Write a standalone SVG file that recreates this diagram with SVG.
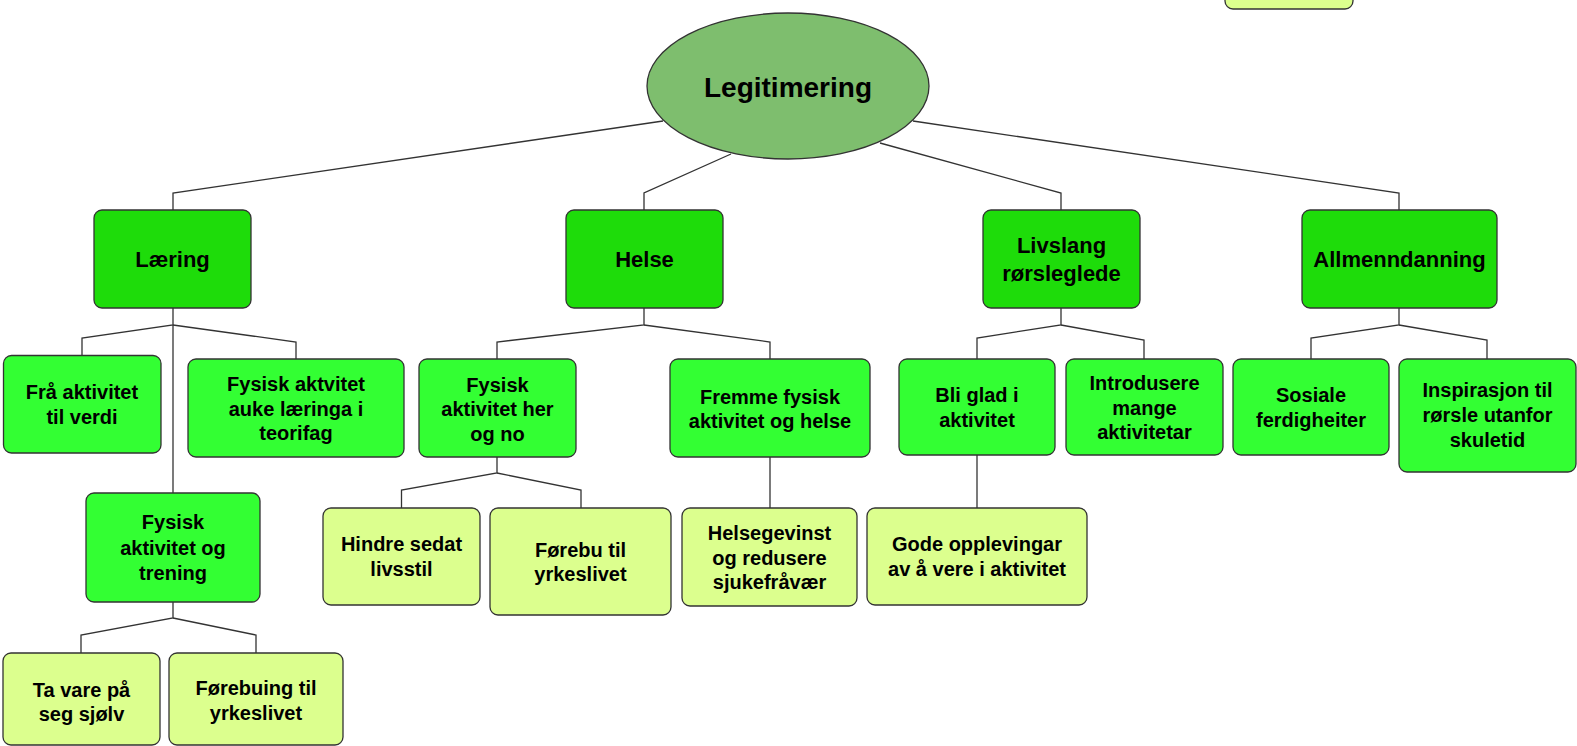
<svg xmlns="http://www.w3.org/2000/svg" width="1577" height="746" viewBox="0 0 1577 746">
<style>
.root{fill:#7EBE6E;stroke:#333;stroke-width:1.3}
.l1{fill:#1EDC0A;stroke:#333;stroke-width:1.3}
.l2{fill:#33FF33;stroke:#333;stroke-width:1.3}
.l3{fill:#DCFF8E;stroke:#333;stroke-width:1.3}
text{font-family:"Liberation Sans",Arial,Helvetica,sans-serif;font-weight:bold;fill:#000;text-anchor:middle}
.t0{font-size:28px}
.t1{font-size:22px}
.t2{font-size:20px}
.c{fill:none;stroke:#333;stroke-width:1.3}
</style>
<rect width="1577" height="746" fill="#fff"/>
<g id="connectors">
<path class="c" d="M663,121 L173,193 L173,210"/>
<path class="c" d="M731,154 L644,193 L644,210"/>
<path class="c" d="M880,143 L1061,193 L1061,210"/>
<path class="c" d="M913,121 L1399,193 L1399,210"/>
<path class="c" d="M173,308 L173,325 L82,338 L82,356"/>
<path class="c" d="M173,325 L296,342 L296,359"/>
<path class="c" d="M173,325 L173,493"/>
<path class="c" d="M173,602 L173,618 L81,635 L81,653"/>
<path class="c" d="M173,618 L256,635 L256,653"/>
<path class="c" d="M644,308 L644,325 L497,342 L497,359"/>
<path class="c" d="M644,325 L770,342 L770,359"/>
<path class="c" d="M497,457 L497,473 L401.5,490 L401.5,508"/>
<path class="c" d="M497,473 L581,490 L581,508"/>
<path class="c" d="M770,457 L770,508"/>
<path class="c" d="M1061,308 L1061,325 L977,338 L977,359"/>
<path class="c" d="M1061,325 L1144,340 L1144,359"/>
<path class="c" d="M1399,308 L1399,325 L1311,338 L1311,359"/>
<path class="c" d="M1399,325 L1487,340 L1487,359"/>
<path class="c" d="M977,455 L977,508"/>
</g>
<g id="topright"><rect class="l3" x="1225" y="-30" width="128" height="39" rx="8"/></g>
<g id="root"><ellipse class="root" cx="788" cy="86" rx="141" ry="73"/><text class="t0" x="788" y="97">Legitimering</text></g>
<g id="laering"><rect class="l1" x="94" y="210" width="157" height="98" rx="8"/><text class="t1" x="172.5" y="267">Læring</text></g>
<g id="helse"><rect class="l1" x="566" y="210" width="157" height="98" rx="8"/><text class="t1" x="644.5" y="267">Helse</text></g>
<g id="livslang"><rect class="l1" x="983" y="210" width="157" height="98" rx="8"/><text class="t1" x="1061.5" y="253">Livslang</text><text class="t1" x="1061.5" y="281">rørsleglede</text></g>
<g id="allmenn"><rect class="l1" x="1302" y="210" width="195" height="98" rx="8"/><text class="t1" x="1399.5" y="267">Allmenndanning</text></g>
<g id="fra"><rect class="l2" x="3.5" y="355.5" width="157.5" height="97.5" rx="8"/><text class="t2" x="82" y="399">Frå aktivitet</text><text class="t2" x="82" y="424">til verdi</text></g>
<g id="auke"><rect class="l2" x="188" y="359" width="216" height="98" rx="8"/><text class="t2" x="296" y="391">Fysisk aktvitet</text><text class="t2" x="296" y="415.5">auke læringa i</text><text class="t2" x="296" y="440">teorifag</text></g>
<g id="trening"><rect class="l2" x="86" y="493" width="174" height="109" rx="8"/><text class="t2" x="173" y="529">Fysisk</text><text class="t2" x="173" y="554.5">aktivitet og</text><text class="t2" x="173" y="579.5">trening</text></g>
<g id="tavare"><rect class="l3" x="3" y="653" width="157" height="92" rx="8"/><text class="t2" x="81.5" y="697">Ta vare på</text><text class="t2" x="81.5" y="721">seg sjølv</text></g>
<g id="forebuing"><rect class="l3" x="169" y="653" width="174" height="92" rx="8"/><text class="t2" x="256" y="695">Førebuing til</text><text class="t2" x="256" y="720">yrkeslivet</text></g>
<g id="herogno"><rect class="l2" x="419" y="359" width="157" height="98" rx="8"/><text class="t2" x="497.5" y="391.5">Fysisk</text><text class="t2" x="497.5" y="416">aktivitet her</text><text class="t2" x="497.5" y="440.5">og no</text></g>
<g id="fremme"><rect class="l2" x="670" y="359" width="200" height="98" rx="8"/><text class="t2" x="770" y="403.5">Fremme fysisk</text><text class="t2" x="770" y="428">aktivitet og helse</text></g>
<g id="hindre"><rect class="l3" x="323" y="508" width="157" height="97" rx="8"/><text class="t2" x="401.5" y="551">Hindre sedat</text><text class="t2" x="401.5" y="575.5">livsstil</text></g>
<g id="forebu"><rect class="l3" x="490" y="508" width="181" height="107" rx="8"/><text class="t2" x="580.5" y="556.5">Førebu til</text><text class="t2" x="580.5" y="581">yrkeslivet</text></g>
<g id="helsegevinst"><rect class="l3" x="682" y="508" width="175" height="98" rx="8"/><text class="t2" x="769.5" y="540">Helsegevinst</text><text class="t2" x="769.5" y="564.5">og redusere</text><text class="t2" x="769.5" y="589">sjukefråvær</text></g>
<g id="bliglad"><rect class="l2" x="899" y="359" width="156" height="96" rx="8"/><text class="t2" x="977" y="402">Bli glad i</text><text class="t2" x="977" y="426.5">aktivitet</text></g>
<g id="introdusere"><rect class="l2" x="1066" y="359" width="157" height="96" rx="8"/><text class="t2" x="1144.5" y="390">Introdusere</text><text class="t2" x="1144.5" y="414.5">mange</text><text class="t2" x="1144.5" y="439">aktivitetar</text></g>
<g id="sosiale"><rect class="l2" x="1233" y="359" width="156" height="96" rx="8"/><text class="t2" x="1311" y="402">Sosiale</text><text class="t2" x="1311" y="426.5">ferdigheiter</text></g>
<g id="inspirasjon"><rect class="l2" x="1399" y="359" width="177" height="113" rx="8"/><text class="t2" x="1487.5" y="397">Inspirasjon til</text><text class="t2" x="1487.5" y="422">rørsle utanfor</text><text class="t2" x="1487.5" y="447">skuletid</text></g>
<g id="gode"><rect class="l3" x="867" y="508" width="220" height="97" rx="8"/><text class="t2" x="977" y="551">Gode opplevingar</text><text class="t2" x="977" y="575.5">av å vere i aktivitet</text></g>
</svg>
